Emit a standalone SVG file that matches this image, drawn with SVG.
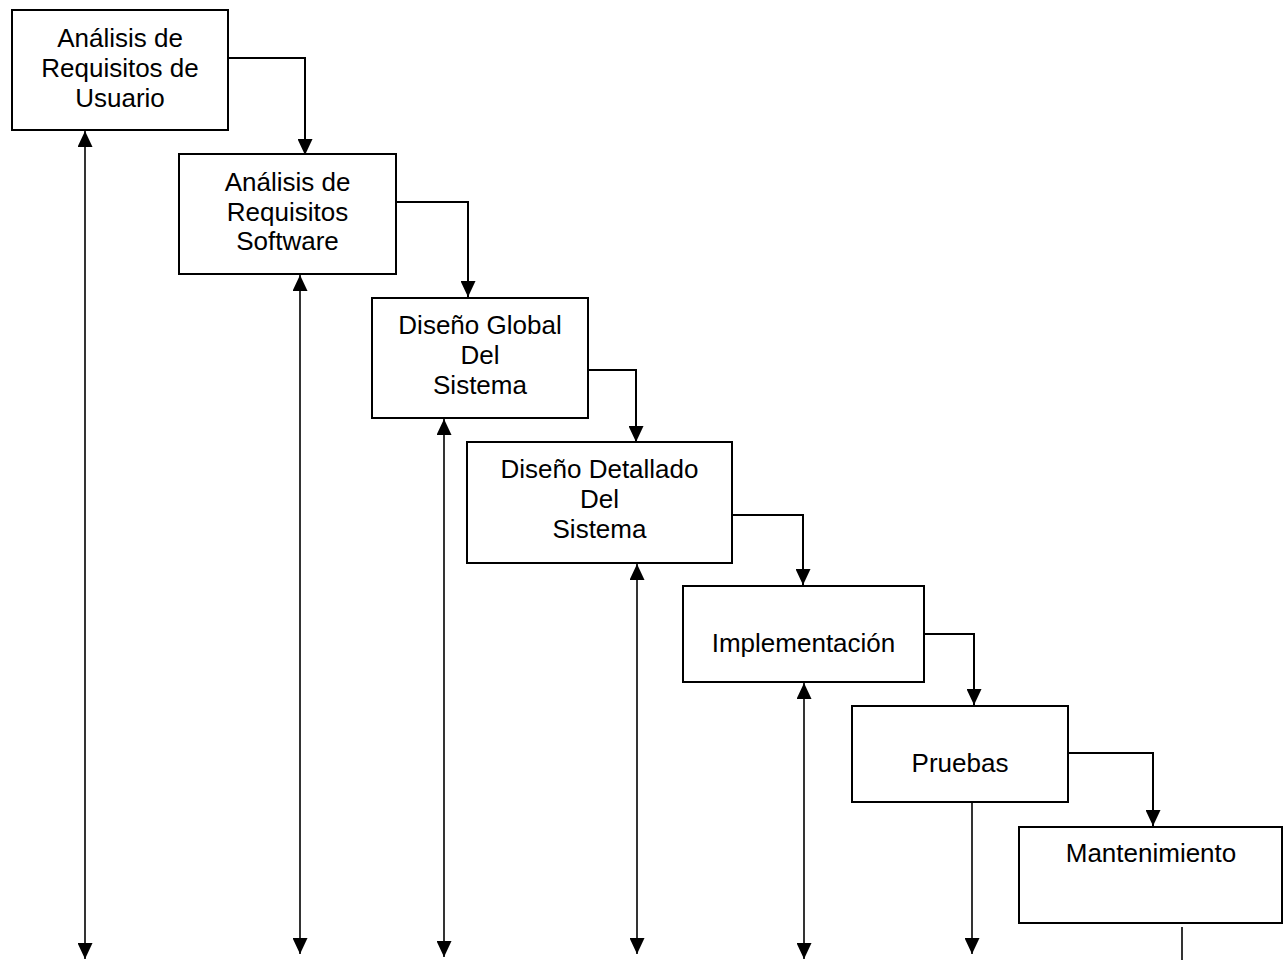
<svg xmlns="http://www.w3.org/2000/svg" width="1283" height="960" viewBox="0 0 1283 960">
<style>
.box{fill:#fff;stroke:#000;stroke-width:2}
.lbl{font-family:"Liberation Sans",Arial,sans-serif;font-size:26px;fill:#000;text-anchor:middle}
.c{fill:none;stroke:#000;stroke-width:2}
.v{fill:none;stroke:#000;stroke-width:1.6}
</style>
<defs>
<marker id="ah" viewBox="0 0 16 15" refX="16" refY="7.5" markerWidth="16" markerHeight="15" markerUnits="userSpaceOnUse" orient="auto-start-reverse">
<path d="M0,0 L16,7.5 L0,15 z" fill="#000"/>
</marker>
</defs>
<rect width="1283" height="960" fill="#fff"/>
<g id="connectors">
<path class="c" d="M228,58 H305 V155" marker-end="url(#ah)"/>
<path class="c" d="M396,202 H468 V297" marker-end="url(#ah)"/>
<path class="c" d="M588,370 H636 V442" marker-end="url(#ah)"/>
<path class="c" d="M732,515 H803 V585" marker-end="url(#ah)"/>
<path class="c" d="M924,634 H974 V705" marker-end="url(#ah)"/>
<path class="c" d="M1065,753 H1153 V826" marker-end="url(#ah)"/>
<path class="v" d="M85,131 V959" marker-start="url(#ah)" marker-end="url(#ah)"/>
<path class="v" d="M300,275 V954" marker-start="url(#ah)" marker-end="url(#ah)"/>
<path class="v" d="M444,419 V957" marker-start="url(#ah)" marker-end="url(#ah)"/>
<path class="v" d="M637,564 V954" marker-start="url(#ah)" marker-end="url(#ah)"/>
<path class="v" d="M804,683 V959" marker-start="url(#ah)" marker-end="url(#ah)"/>
<path class="v" d="M972,803 V954" marker-end="url(#ah)"/>
<path class="v" d="M1182,927 V960"/>
</g>
<g id="n1"><rect class="box" x="12" y="10" width="216" height="120"/>
<text class="lbl" x="120" y="47">Análisis de</text><text class="lbl" x="120" y="77">Requisitos de</text><text class="lbl" x="120" y="107">Usuario</text></g>
<g id="n2"><rect class="box" x="179" y="154" width="217" height="120"/>
<text class="lbl" x="287.5" y="191">Análisis de</text><text class="lbl" x="287.5" y="221">Requisitos</text><text class="lbl" x="287.5" y="250">Software</text></g>
<g id="n3"><rect class="box" x="372" y="298" width="216" height="120"/>
<text class="lbl" x="480" y="334">Diseño Global</text><text class="lbl" x="480" y="364">Del</text><text class="lbl" x="480" y="394">Sistema</text></g>
<g id="n4"><rect class="box" x="467" y="442" width="265" height="121"/>
<text class="lbl" x="599.5" y="478">Diseño Detallado</text><text class="lbl" x="599.5" y="508">Del</text><text class="lbl" x="599.5" y="538">Sistema</text></g>
<g id="n5"><rect class="box" x="683" y="586" width="241" height="96"/>
<text class="lbl" x="803.5" y="652">Implementación</text></g>
<g id="n6"><rect class="box" x="852" y="706" width="216" height="96"/>
<text class="lbl" x="960" y="772">Pruebas</text></g>
<g id="n7"><rect class="box" x="1019" y="827" width="263" height="96"/>
<text class="lbl" x="1151" y="862">Mantenimiento</text></g>
</svg>
